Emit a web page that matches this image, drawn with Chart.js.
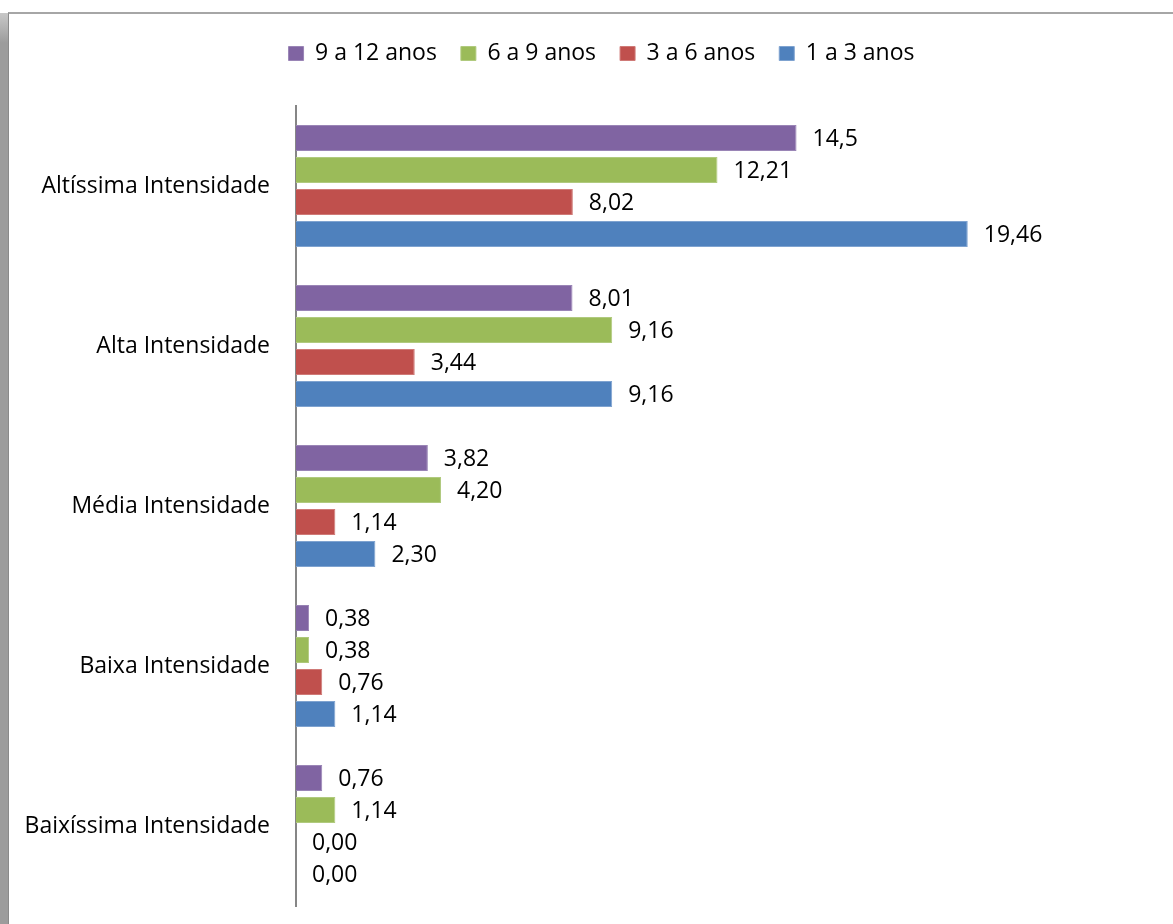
<!DOCTYPE html>
<html>
<head>
<meta charset="utf-8">
<script src="https://cdn.jsdelivr.net/npm/chart.js@4/dist/chart.umd.min.js"></script>
<style>
  html, body { margin: 0; padding: 0; background: #fff; width: 1173px; height: 924px; overflow: hidden; }
  #shadow { position: absolute; left: 0; top: 13px; width: 8px; height: 911px; background: linear-gradient(to bottom, #c8c8c8 0px, #9c9c9c 30px, #9c9c9c 100%); }
  #frame { position: absolute; left: 8px; top: 12px; width: 1165px; height: 912px; border-top: 2px solid #a6a6a6; border-left: 1px solid #8a8a8a; box-sizing: border-box; }
  #wrap { position: absolute; left: 0; top: 0; width: 1173px; height: 924px; }
  canvas { display: block; }
</style>
</head>
<body>
<div id="shadow"></div>
<div id="frame"></div>
<div id="wrap"><canvas id="c" width="1173" height="924"></canvas></div>
<script>
// Categories (top to bottom)
const categories = ["Altíssima Intensidade", "Alta Intensidade", "Média Intensidade", "Baixa Intensidade", "Baixíssima Intensidade"];
// Series names
const seriesNames = ["9 a 12 anos", "6 a 9 anos", "3 a 6 anos", "1 a 3 anos"];
// Values as displayed in the labels (percent)
const anos9a12 = ["14,5", "8,01", "3,82", "0,38", "0,76"];
const anos6a9  = ["12,21", "9,16", "4,20", "0,38", "1,14"];
const anos3a6  = ["8,02", "3,44", "1,14", "0,76", "0,00"];
const anos1a3  = ["19,46", "9,16", "2,30", "1,14", "0,00"];
const seriesColors = ["#8064A2", "#9BBB59", "#C0504D", "#4F81BD"];
const seriesBorders = ["#9a85b6", "#b0ca7e", "#cf7a77", "#7fa3d0"];

const toNum = s => parseFloat(s.replace(',', '.'));
const seriesText = [anos9a12, anos6a9, anos3a6, anos1a3];

const FONT = "'Open Sans', sans-serif";
const FSIZE = 23;
const PLOT_TOP = 106;
const PLOT_BOTTOM = 906;

const dataLabelPlugin = {
  id: 'dataLabels',
  afterDatasetsDraw(chart) {
    const ctx = chart.ctx;
    ctx.save();
    ctx.font = FSIZE + "px " + FONT;
    ctx.fillStyle = "#000";
    ctx.textAlign = "left";
    ctx.textBaseline = "middle";
    chart.data.datasets.forEach((ds, di) => {
      const meta = chart.getDatasetMeta(di);
      meta.data.forEach((bar, i) => {
        ctx.fillText(ds.labelsText[i], bar.x + 16, bar.y + 1);
      });
    });
    ctx.restore();
  }
};

// centre the legend over the plot and set the plot's vertical extent like the original
const layoutTweak = {
  id: 'layoutTweak',
  afterLayout(chart) {
    const lg = chart.legend;
    if (lg) { lg.left += 17; lg.right += 17; }
    const ca = chart.chartArea;
    ca.top = PLOT_TOP; ca.bottom = PLOT_BOTTOM; ca.height = PLOT_BOTTOM - PLOT_TOP;
    const y = chart.scales.y;
    y.top = PLOT_TOP; y.bottom = PLOT_BOTTOM; y.height = PLOT_BOTTOM - PLOT_TOP;
    y.configure();
    const x = chart.scales.x;
    x.top = PLOT_TOP; x.bottom = PLOT_BOTTOM;
  }
};

new Chart(document.getElementById('c'), {
  type: 'bar',
  data: {
    labels: categories,
    datasets: seriesNames.map((name, k) => ({
      label: name,
      data: seriesText[k].map(toNum),
      labelsText: seriesText[k],
      backgroundColor: seriesColors[k],
      borderColor: seriesBorders[k],
      borderWidth: 1,
      borderSkipped: 'left',
      categoryPercentage: 0.8,
      barPercentage: 0.82
    }))
  },
  options: {
    indexAxis: 'y',
    responsive: false,
    animation: false,
    layout: { padding: { left: 10, right: 14, top: 18, bottom: 18 } },
    plugins: {
      legend: {
        position: 'top',
        labels: {
          font: { family: FONT, size: FSIZE },
          color: '#000',
          boxWidth: 15,
          boxHeight: 14,
          padding: 24
        }
      },
      tooltip: { enabled: false }
    },
    scales: {
      x: {
        display: false,
        min: 0,
        max: 25
      },
      y: {
        afterFit(scale) { scale.width = 286; },
        grid: { display: false, drawTicks: true, tickLength: 26 },
        border: { display: true, color: '#868686', width: 2 },
        ticks: {
          padding: 0,
          color: '#000',
          font: { family: FONT, size: FSIZE }
        }
      }
    }
  },
  plugins: [dataLabelPlugin, layoutTweak]
});
</script>
</body>
</html>
